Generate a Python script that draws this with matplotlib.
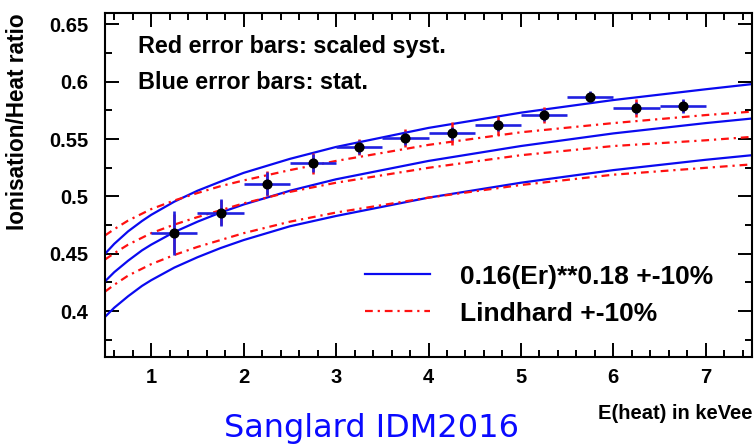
import numpy as np
import matplotlib.pyplot as plt
from matplotlib.ticker import MultipleLocator

plt.rcParams['font.family'] = ['Liberation Sans', 'DejaVu Sans']

# --- measured points (E heat in keVee, ionisation/heat ratio) ---
e_heat = [1.25, 1.75, 2.25, 2.75, 3.25, 3.75, 4.25, 4.75, 5.25, 5.75, 6.25, 6.75]
ratio = [0.468, 0.486, 0.511, 0.529, 0.543, 0.551, 0.555, 0.562, 0.571, 0.587, 0.577, 0.579]
e_half = [0.25] * 12
stat_err = [0.019, 0.012, 0.010, 0.008, 0.006, 0.006, 0.006, 0.005, 0.005, 0.005, 0.005, 0.006]
syst_err = [0.017, 0.011, 0.011, 0.009, 0.007, 0.008, 0.010, 0.008, 0.007, 0.004, 0.008, 0.005]

# --- model curves ---
e_curve = [0.5, 0.6, 0.75, 0.9, 1.0, 1.25, 1.5, 1.75, 2.0, 2.5, 3.0, 4.0, 5.0, 6.0, 7.0, 7.5]
pow_hi = [0.450, 0.4587, 0.4696, 0.4786, 0.484, 0.4955, 0.505, 0.513, 0.5206, 0.5328, 0.5432,
          0.5598, 0.5731, 0.5841, 0.5935, 0.598]
pow_mid = [0.426, 0.434, 0.444, 0.453, 0.458, 0.469, 0.478, 0.486, 0.493, 0.505, 0.515,
           0.531, 0.544, 0.555, 0.564, 0.568]
pow_lo = [0.395, 0.403, 0.413, 0.422, 0.427, 0.438, 0.447, 0.455, 0.462, 0.474, 0.483,
          0.499, 0.512, 0.523, 0.532, 0.536]
lind_hi = [0.466, 0.4715, 0.479, 0.485, 0.489, 0.4965, 0.503, 0.509, 0.514, 0.523, 0.531,
           0.545, 0.556, 0.564, 0.571, 0.574]
lind_mid = [0.445, 0.4505, 0.458, 0.464, 0.468, 0.4755, 0.482, 0.488, 0.494, 0.504, 0.512,
            0.525, 0.536, 0.544, 0.549, 0.552]
lind_lo = [0.417, 0.423, 0.431, 0.437, 0.441, 0.449, 0.456, 0.462, 0.468, 0.478, 0.486,
           0.499, 0.510, 0.519, 0.525, 0.528]

xticks = [1, 2, 3, 4, 5, 6, 7]
yticks = [0.4, 0.45, 0.5, 0.55, 0.6, 0.65]
ytick_labels = ['0.4', '0.45', '0.5', '0.55', '0.6', '0.65']

fig = plt.figure(figsize=(7.56, 4.44), dpi=100)
ax = fig.add_axes([0.1389, 0.1959, 0.8558, 0.7748])

# curves
for i, yc in enumerate([pow_hi, pow_mid, pow_lo]):
    ax.plot(e_curve, yc, color='#0a0af0', lw=1.6,
            label='0.16(Er)**0.18 +-10%' if i == 0 else None)
for i, yc in enumerate([lind_hi, lind_mid, lind_lo]):
    ax.plot(e_curve, yc, color='#ff1010', lw=1.6, dashes=(3.5, 2.2, 1, 2.2),
            label='Lindhard +-10%' if i == 0 else None)

# error bars: syst (red) under stat (blue)
ax.errorbar(e_heat, ratio, yerr=syst_err, fmt='none', ecolor='#ff1010',
            elinewidth=1.8, capsize=0, zorder=3)
ax.errorbar(e_heat, ratio, xerr=e_half, yerr=stat_err, fmt='none',
            ecolor='#2020e0', elinewidth=1.9, capsize=0, zorder=4)
ax.plot(e_heat, ratio, 'o', color='black', ms=6.3, zorder=5)

ax.set_xlim(0.5, 7.5)
ax.set_ylim(0.36, 0.66)
ax.set_xticks(xticks)
ax.set_yticks(yticks, ytick_labels)
ax.xaxis.set_minor_locator(MultipleLocator(0.2))
ax.yaxis.set_minor_locator(MultipleLocator(0.025))
ax.tick_params(which='both', direction='in', top=True, right=True, width=1.4)
ax.tick_params(which='major', length=10, labelsize=14.5)
ax.tick_params(which='minor', length=5)
ax.tick_params(axis='x', pad=8)
ax.tick_params(axis='y', pad=12)
for lab in ax.get_xticklabels() + ax.get_yticklabels():
    lab.set_fontweight('bold')
for sp in ax.spines.values():
    sp.set_linewidth(1.5)

ax.set_ylabel('Ionisation/Heat ratio', fontsize=16.3, fontweight='bold', loc='top')
ax.yaxis.set_label_coords(-0.118, 1.0)

ax.text(0.051, 0.904, 'Red error bars: scaled syst.', transform=ax.transAxes,
        fontsize=16.8, fontweight='bold', va='center')
ax.text(0.051, 0.799, 'Blue error bars: stat.', transform=ax.transAxes,
        fontsize=16.8, fontweight='bold', va='center')

leg = ax.legend(loc='center left', bbox_to_anchor=(0.402, 0.18), frameon=False,
                handlelength=2.46, handletextpad=1.14,
                labelspacing=0.5, borderpad=0, borderaxespad=0,
                prop={'weight': 'bold', 'size': 19})

fig.text(752 / 756, 1 - 413 / 444, 'E(heat) in keVee', ha='right', va='center',
         fontsize=14.5, fontweight='bold')
fig.text(0.491, 0.036, 'Sanglard IDM2016', ha='center', va='center',
         fontsize=23, color='#0a0aff', family=['DejaVu Sans'])

fig.savefig('out.png', dpi=100)
